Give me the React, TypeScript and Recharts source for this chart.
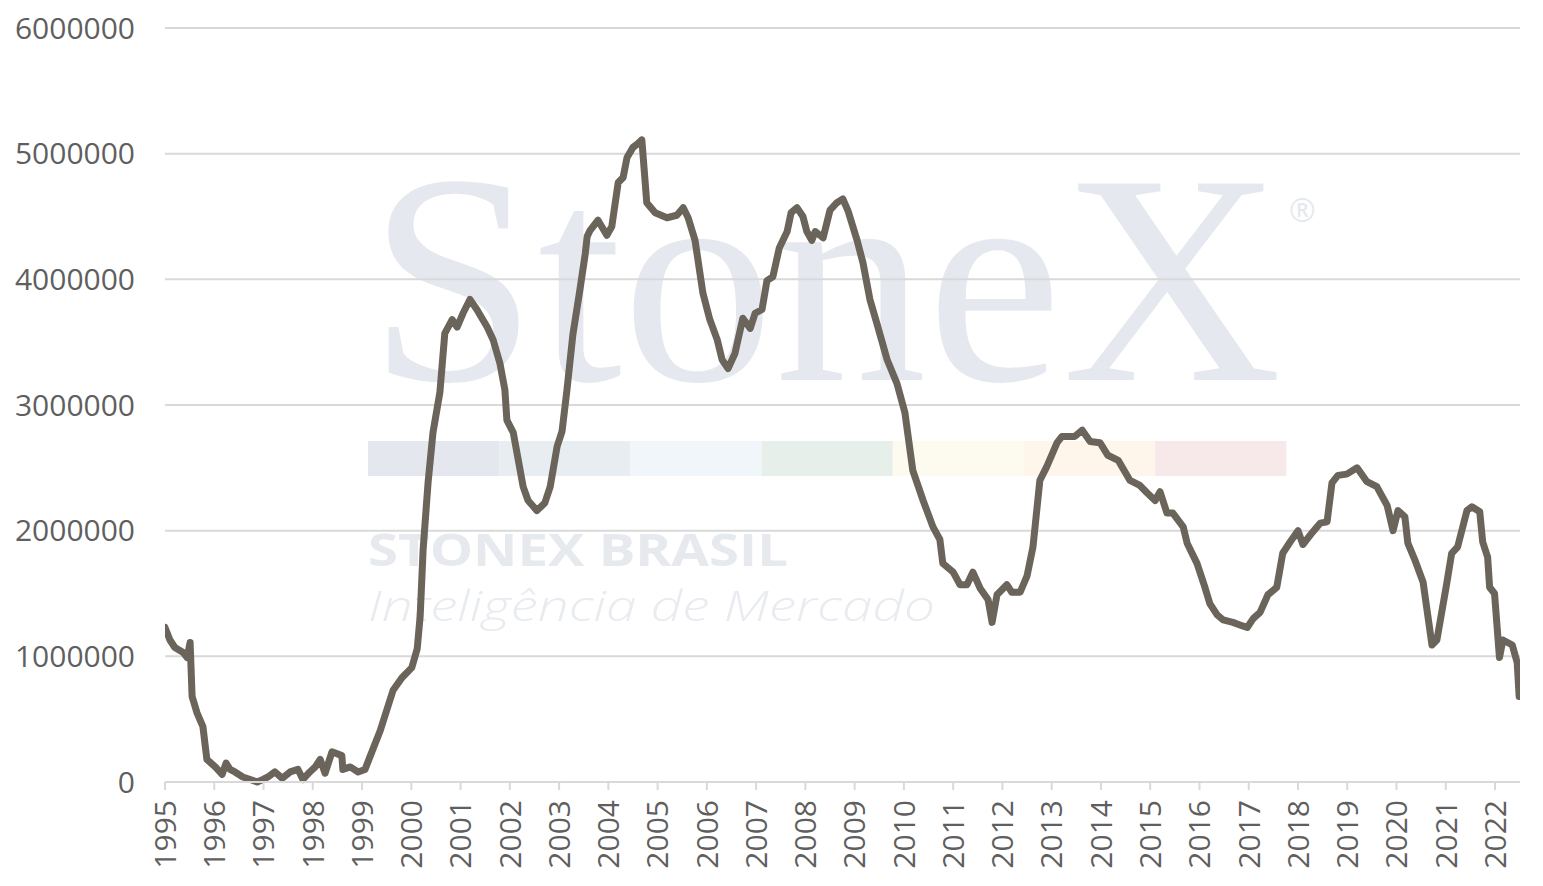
import React from "react";
import { LineChart, Line, XAxis, YAxis, CartesianGrid } from "recharts";

// Decimal year, stock value
const stockPoints: [number, number][] = [
  [1995.0, 1230000], [1995.1, 1130000], [1995.2, 1070000], [1995.37, 1030000],
  [1995.45, 990000], [1995.51, 1110000], [1995.55, 680000], [1995.65, 550000],
  [1995.77, 440000], [1995.85, 180000], [1996.02, 120000], [1996.16, 60000],
  [1996.24, 150000], [1996.32, 100000], [1996.42, 80000], [1996.58, 40000],
  [1996.73, 20000], [1996.87, 0], [1996.99, 20000], [1997.09, 40000],
  [1997.23, 80000], [1997.38, 30000], [1997.54, 80000], [1997.7, 100000],
  [1997.8, 20000], [1997.94, 80000], [1998.05, 120000], [1998.15, 180000],
  [1998.25, 70000], [1998.39, 240000], [1998.59, 210000], [1998.61, 100000],
  [1998.76, 120000], [1998.92, 80000], [1999.06, 100000], [1999.16, 200000],
  [1999.37, 410000], [1999.63, 730000], [1999.81, 830000], [2000.01, 910000],
  [2000.12, 1060000], [2000.18, 1320000], [2000.24, 1850000], [2000.34, 2380000],
  [2000.44, 2780000], [2000.58, 3100000], [2000.68, 3570000], [2000.83, 3680000],
  [2000.93, 3620000], [2001.05, 3730000], [2001.19, 3840000], [2001.33, 3760000],
  [2001.54, 3620000], [2001.66, 3520000], [2001.8, 3330000], [2001.9, 3120000],
  [2001.94, 2880000], [2002.07, 2780000], [2002.21, 2480000], [2002.27, 2350000],
  [2002.37, 2240000], [2002.55, 2160000], [2002.71, 2220000], [2002.82, 2350000],
  [2002.96, 2670000], [2003.06, 2790000], [2003.16, 3120000], [2003.28, 3560000],
  [2003.42, 3910000], [2003.53, 4200000], [2003.57, 4340000], [2003.63, 4390000],
  [2003.79, 4470000], [2003.97, 4350000], [2004.07, 4420000], [2004.2, 4770000],
  [2004.3, 4810000], [2004.38, 4970000], [2004.5, 5050000], [2004.6, 5080000],
  [2004.68, 5110000], [2004.78, 4610000], [2004.95, 4530000], [2005.19, 4490000],
  [2005.39, 4510000], [2005.52, 4570000], [2005.62, 4490000], [2005.76, 4310000],
  [2005.92, 3890000], [2006.06, 3680000], [2006.21, 3520000], [2006.31, 3360000],
  [2006.43, 3290000], [2006.57, 3410000], [2006.73, 3690000], [2006.88, 3610000],
  [2006.98, 3730000], [2007.12, 3760000], [2007.22, 3990000], [2007.34, 4020000],
  [2007.47, 4250000], [2007.63, 4380000], [2007.71, 4530000], [2007.83, 4570000],
  [2007.95, 4500000], [2008.03, 4380000], [2008.13, 4310000], [2008.2, 4380000],
  [2008.36, 4330000], [2008.5, 4550000], [2008.64, 4610000], [2008.76, 4640000],
  [2008.87, 4540000], [2009.05, 4310000], [2009.17, 4130000], [2009.31, 3840000],
  [2009.45, 3650000], [2009.66, 3360000], [2009.86, 3170000], [2010.02, 2940000],
  [2010.18, 2480000], [2010.39, 2240000], [2010.59, 2030000], [2010.73, 1930000],
  [2010.79, 1740000], [2011.0, 1670000], [2011.14, 1570000], [2011.28, 1570000],
  [2011.4, 1670000], [2011.55, 1540000], [2011.71, 1450000], [2011.79, 1270000],
  [2011.89, 1490000], [2012.09, 1570000], [2012.19, 1510000], [2012.36, 1510000],
  [2012.5, 1640000], [2012.62, 1870000], [2012.76, 2400000], [2012.9, 2510000],
  [2013.11, 2700000], [2013.21, 2750000], [2013.47, 2750000], [2013.62, 2800000],
  [2013.78, 2710000], [2013.98, 2700000], [2014.14, 2600000], [2014.35, 2560000],
  [2014.59, 2400000], [2014.79, 2360000], [2014.94, 2300000], [2015.1, 2240000],
  [2015.2, 2310000], [2015.34, 2140000], [2015.46, 2140000], [2015.67, 2030000],
  [2015.75, 1900000], [2015.95, 1740000], [2016.11, 1550000], [2016.21, 1420000],
  [2016.36, 1330000], [2016.48, 1290000], [2016.68, 1270000], [2016.82, 1250000],
  [2016.97, 1230000], [2017.09, 1300000], [2017.23, 1350000], [2017.39, 1490000],
  [2017.57, 1550000], [2017.69, 1820000], [2017.84, 1910000], [2018.0, 2000000],
  [2018.1, 1890000], [2018.3, 1990000], [2018.45, 2060000], [2018.59, 2070000],
  [2018.69, 2380000], [2018.81, 2440000], [2018.99, 2450000], [2019.2, 2500000],
  [2019.4, 2390000], [2019.6, 2350000], [2019.81, 2200000], [2019.93, 2000000],
  [2020.03, 2160000], [2020.17, 2110000], [2020.23, 1900000], [2020.37, 1770000],
  [2020.54, 1590000], [2020.72, 1090000], [2020.82, 1130000], [2021.02, 1580000],
  [2021.12, 1820000], [2021.24, 1870000], [2021.43, 2160000], [2021.53, 2190000],
  [2021.69, 2150000], [2021.75, 1910000], [2021.85, 1790000], [2021.89, 1550000],
  [2021.99, 1500000], [2022.09, 990000], [2022.16, 1130000], [2022.35, 1090000],
  [2022.45, 950000], [2022.49, 680000],
];

const yearTicks: number[] = [
  1995, 1996, 1997, 1998, 1999, 2000, 2001, 2002, 2003, 2004, 2005, 2006, 2007, 2008,
  2009, 2010, 2011, 2012, 2013, 2014, 2015, 2016, 2017, 2018, 2019, 2020, 2021, 2022,
];
const valueTicks: number[] = [0, 1000000, 2000000, 3000000, 4000000, 5000000, 6000000];

const barColors: string[] = [
  "#e4e8ee", "#e8edf2", "#f1f6fa", "#e6efea", "#fdfaf0", "#fef6ea", "#f7e9e9",
];

const chartData = stockPoints.map(([t, v]) => ({ t, v }));

const FONT = "'Open Sans', 'DejaVu Sans', sans-serif";
const LABEL = "#5f5f5f";

const XTick = (props: any) => {
  const { x, y, payload } = props;
  return (
    <text
      x={x}
      y={y}
      transform={`rotate(-90, ${x}, ${y})`}
      textAnchor="end"
      dy="0.36em"
      fill={LABEL}
      fontSize={30}
      fontFamily={FONT}
    >
      {payload.value}
    </text>
  );
};

const YTick = (props: any) => {
  const { x, y, payload } = props;
  return (
    <text x={x} y={y} textAnchor="end" dy="0.36em" fill={LABEL} fontSize={30} fontFamily={FONT}>
      {String(payload.value)}
    </text>
  );
};

const W = 1535;
const H = 878;

const Watermark = () => (
  <svg width={W} height={H} style={{ position: "absolute", left: 0, top: 0 }}>
    <text
      x={360}
      y={372}
      fontFamily="'Liberation Serif', 'DejaVu Serif', serif"
      fontSize={300}
      fill="#e5e9ef"
      textLength={914}
      lengthAdjust="spacingAndGlyphs"
    >
      StoneX
    </text>
    <text x={1281} y={214} fontFamily={FONT} fontSize={32} fill="#e5e9ef">
      ®
    </text>
    {barColors.map((c, i) => (
      <rect key={i} x={360 + i * 131.2} y={433} width={131.2} height={35} fill={c} />
    ))}
    <text
      x={360}
      y={558}
      fontFamily={FONT}
      fontWeight={700}
      fontSize={45}
      fill="#e6e9ee"
      textLength={420}
      lengthAdjust="spacingAndGlyphs"
    >
      STONEX BRASIL
    </text>
    <text
      x={360}
      y={613}
      fontFamily={FONT}
      fontStyle="italic"
      fontWeight={300}
      fontSize={42}
      fill="#e8ebf0"
      textLength={567}
      lengthAdjust="spacingAndGlyphs"
    >
      Inteligência de Mercado
    </text>
  </svg>
);

export default function App() {
  return (
    <div style={{ position: "relative", width: W, height: H, background: "#ffffff" }}>
      <Watermark />
      <div style={{ position: "absolute", left: 0, top: 0 }}>
        <LineChart
          width={W}
          height={H}
          data={chartData}
          margin={{ top: 20, right: 23, left: 0, bottom: 14 }}
        >
          <CartesianGrid vertical={false} stroke="#d9d9d9" strokeWidth={2} />
          <XAxis
            dataKey="t"
            type="number"
            domain={[1995, 2022.507]}
            ticks={yearTicks}
            interval={0}
            height={90}
            tick={<XTick />}
            tickSize={8}
            tickMargin={10}
            axisLine={{ stroke: "#d9d9d9", strokeWidth: 2 }}
            tickLine={{ stroke: "#d9d9d9", strokeWidth: 2 }}
            allowDataOverflow
          />
          <YAxis
            type="number"
            domain={[0, 6000000]}
            ticks={valueTicks}
            width={157}
            axisLine={false}
            tickLine={false}
            tickSize={0}
            tickMargin={30}
            tick={<YTick />}
          />
          <Line
            type="linear"
            dataKey="v"
            stroke="#6a645a"
            strokeWidth={7}
            strokeLinejoin="round"
            strokeLinecap="round"
            dot={false}
            activeDot={false}
            isAnimationActive={false}
          />
        </LineChart>
      </div>
    </div>
  );
}
